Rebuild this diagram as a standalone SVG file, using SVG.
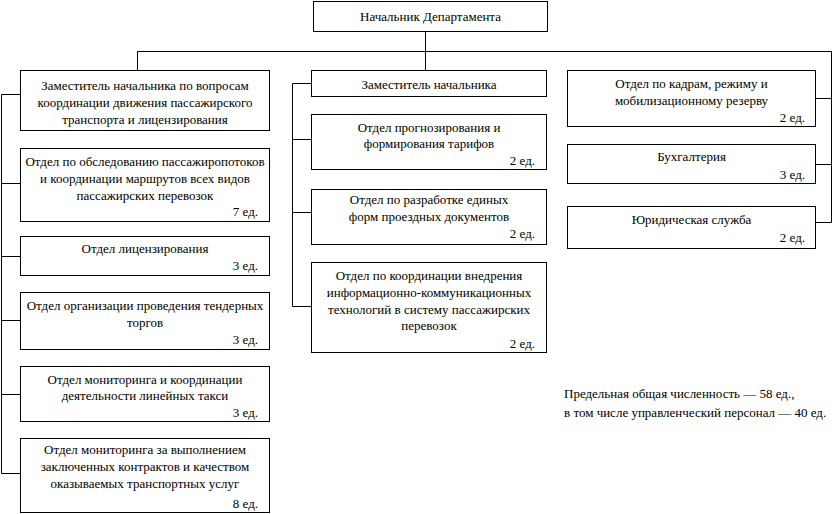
<svg xmlns="http://www.w3.org/2000/svg" width="836" height="514" viewBox="0 0 836 514">
<style>
rect{fill:#fff;stroke:#000;stroke-width:1}
path{fill:none;stroke:#000;stroke-width:1}
text{font-family:'Liberation Serif','DejaVu Serif',serif;font-size:13px;fill:#000}
.c{text-anchor:middle}
.r{text-anchor:end}
</style>
<rect width="836" height="514" style="fill:#fff;stroke:none"/>
<g id="connectors">
<path d="M425.5,31.5V70.5"/>
<path d="M137.5,70.5V51.5H831.5V222.5"/>
<path d="M815.5,98.5H831.5M815.5,164.5H831.5M815.5,222.5H831.5"/>
<path d="M20.5,94.5H1.5V473.5H20.5M1.5,183.5H20.5M1.5,256.5H20.5M1.5,320.5H20.5M1.5,394.5H20.5"/>
<path d="M311.5,83.5H292.5V306.5H311.5M292.5,139.5H311.5M292.5,212.5H311.5"/>
</g>
<g id="head">
<rect x="313.5" y="1.5" width="234" height="30"/>
<text class="c" x="430.5" y="21">Начальник Департамента</text>
</g>
<g id="dep1">
<rect x="20.5" y="70.5" width="249" height="60"/>
<text class="c" x="145" y="89.5">Заместитель начальника по вопросам</text>
<text class="c" x="145" y="106.5">координации движения пассажирского</text>
<text class="c" x="145" y="123.5">транспорта и лицензирования</text>
</g>
<g id="l2">
<rect x="20.5" y="148.5" width="249" height="73"/>
<text class="c" x="145" y="166">Отдел по обследованию пассажиропотоков</text>
<text class="c" x="145" y="182.5">и координации маршрутов всех видов</text>
<text class="c" x="145" y="199.5">пассажирских перевозок</text>
<text class="r" x="258" y="216">7 ед.</text>
</g>
<g id="l3">
<rect x="20.5" y="236.5" width="249" height="39"/>
<text class="c" x="145" y="252.5">Отдел лицензирования</text>
<text class="r" x="258" y="270">3 ед.</text>
</g>
<g id="l4">
<rect x="20.5" y="292.5" width="249" height="57"/>
<text class="c" x="145" y="310">Отдел организации проведения тендерных</text>
<text class="c" x="145" y="327">торгов</text>
<text class="r" x="258" y="343.5">3 ед.</text>
</g>
<g id="l5">
<rect x="20.5" y="366.5" width="249" height="55"/>
<text class="c" x="145" y="383.5">Отдел мониторинга и координации</text>
<text class="c" x="145" y="400">деятельности линейных такси</text>
<text class="r" x="258" y="416.5">3 ед.</text>
</g>
<g id="l6">
<rect x="20.5" y="438.5" width="249" height="74"/>
<text class="c" x="145" y="454">Отдел мониторинга за выполнением</text>
<text class="c" x="145" y="471">заключенных контрактов и качеством</text>
<text class="c" x="145" y="488">оказываемых транспортных услуг</text>
<text class="r" x="258" y="508">8 ед.</text>
</g>
<g id="dep2">
<rect x="311.5" y="70.5" width="235" height="26"/>
<text class="c" x="429" y="89">Заместитель начальника</text>
</g>
<g id="m2">
<rect x="311.5" y="114.5" width="235" height="55"/>
<text class="c" x="429" y="131.5">Отдел прогнозирования и</text>
<text class="c" x="429" y="148">формирования тарифов</text>
<text class="r" x="535" y="164.5">2 ед.</text>
</g>
<g id="m3">
<rect x="311.5" y="189.5" width="235" height="55"/>
<text class="c" x="429" y="204">Отдел по разработке единых</text>
<text class="c" x="429" y="221">форм проездных документов</text>
<text class="r" x="535" y="238">2 ед.</text>
</g>
<g id="m4">
<rect x="311.5" y="262.5" width="235" height="90"/>
<text class="c" x="429" y="280">Отдел по координации внедрения</text>
<text class="c" x="429" y="297">информационно-коммуникационных</text>
<text class="c" x="429" y="313.5">технологий в систему пассажирских</text>
<text class="c" x="429" y="330">перевозок</text>
<text class="r" x="535" y="348">2 ед.</text>
</g>
<g id="r1">
<rect x="567.5" y="70.5" width="248" height="56"/>
<text class="c" x="691.5" y="87.5">Отдел по кадрам, режиму и</text>
<text class="c" x="691.5" y="105">мобилизационному резерву</text>
<text class="r" x="805" y="122">2 ед.</text>
</g>
<g id="r2">
<rect x="567.5" y="144.5" width="248" height="39"/>
<text class="c" x="691.5" y="161">Бухгалтерия</text>
<text class="r" x="805" y="179">3 ед.</text>
</g>
<g id="r3">
<rect x="567.5" y="206.5" width="248" height="42"/>
<text class="c" x="691.5" y="224">Юридическая служба</text>
<text class="r" x="805" y="242">2 ед.</text>
</g>
<g id="note">
<text x="564" y="398">Предельная общая численность — 58 ед.,</text>
<text x="564" y="417">в том числе управленческий персонал — 40 ед.</text>
</g>
</svg>
